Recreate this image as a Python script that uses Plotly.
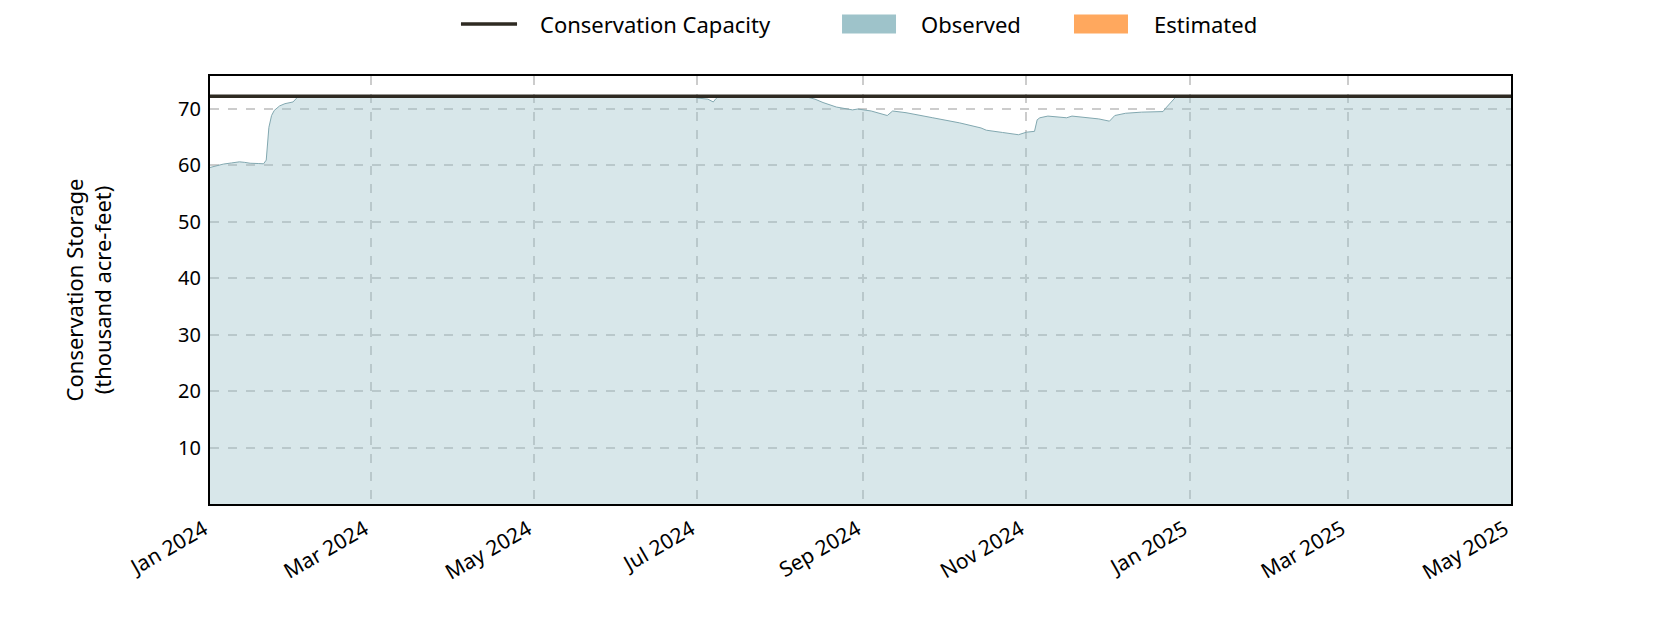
import plotly.graph_objects as go

# ---- data ------------------------------------------------------------------------

CAPACITY = 72.2  # thousand acre-feet

obs_dates = [
    '2024-01-01', '2024-01-04', '2024-01-06', '2024-01-09', '2024-01-12', '2024-01-14',
    '2024-01-16', '2024-01-19', '2024-01-21', '2024-01-22', '2024-01-23', '2024-01-24',
    '2024-01-25', '2024-01-27', '2024-01-29', '2024-02-01', '2024-02-03', '2024-06-29',
    '2024-07-01', '2024-07-05', '2024-07-07', '2024-07-08', '2024-07-09', '2024-08-10',
    '2024-08-14', '2024-08-17', '2024-08-20', '2024-08-22', '2024-08-28', '2024-08-30',
    '2024-09-04', '2024-09-10', '2024-09-12', '2024-09-17', '2024-09-27', '2024-10-07',
    '2024-10-15', '2024-10-17', '2024-10-23', '2024-10-29', '2024-11-01', '2024-11-04',
    '2024-11-05', '2024-11-06', '2024-11-09', '2024-11-16', '2024-11-18', '2024-11-28',
    '2024-12-02', '2024-12-04', '2024-12-08', '2024-12-14', '2024-12-22', '2024-12-23',
    '2024-12-27', '2025-05-01',
]
obs_values = [
    59.6, 59.95, 60.2, 60.4, 60.6, 60.5,
    60.35, 60.3, 60.25, 60.9, 66.7, 68.8,
    69.7, 70.5, 70.9, 71.2, 72.2, 72.2,
    71.9, 71.7, 71.2, 71.8, 72.2, 72.2,
    71.7, 71.1, 70.7, 70.3, 69.8, 69.95,
    69.6, 68.8, 69.6, 69.3, 68.4, 67.5,
    66.6, 66.2, 65.8, 65.4, 65.85, 66.0,
    68.05, 68.4, 68.7, 68.4, 68.7, 68.2,
    67.8, 68.8, 69.2, 69.4, 69.5, 70.1,
    72.2, 72.2,
]

x_range = ['2024-01-01', '2025-05-01']
y_ticks = [10, 20, 30, 40, 50, 60, 70]

legend_names = ['Conservation Capacity', 'Observed', 'Estimated']

#----------------------------------------------------------------------------------------------------

FONT = 'Noto Sans'
OBS_COLOR = 'rgb(158, 195, 202)'
OBS_FILL = 'rgba(158, 195, 202, 0.4)'
OBS_LINE = 'rgb(130, 168, 176)'
EST_COLOR = 'rgb(255, 168, 94)'
CAP_COLOR = 'rgb(46, 42, 34)'

fig = go.Figure()

# observed storage, filled
fig.add_trace(go.Scatter(x=obs_dates, y=obs_values, mode='lines', fill='tozeroy',
                         fillcolor=OBS_FILL, line=dict(color=OBS_LINE, width=1),
                         name=legend_names[1], showlegend=False, hoverinfo='skip'))

# conservation capacity
fig.add_trace(go.Scatter(x=x_range, y=[CAPACITY, CAPACITY], mode='lines',
                         line=dict(color=CAP_COLOR, width=3.5),
                         name=legend_names[0], showlegend=False))

# legend drawn by hand above the plot (paper coords), matplotlib style swatches
LEG_Y = 1.1215
LEG_H = 0.0222
fig.add_shape(type='line', xref='paper', yref='paper', x0=0.1929, x1=0.2360, y0=LEG_Y, y1=LEG_Y,
              line=dict(color=CAP_COLOR, width=3.5))
fig.add_shape(type='rect', xref='paper', yref='paper', x0=0.4858, x1=0.5273,
              y0=LEG_Y - LEG_H, y1=LEG_Y + LEG_H, fillcolor=OBS_COLOR, line=dict(width=0))
fig.add_shape(type='rect', xref='paper', yref='paper', x0=0.6641, x1=0.7056,
              y0=LEG_Y - LEG_H, y1=LEG_Y + LEG_H, fillcolor=EST_COLOR, line=dict(width=0))
for name, xpos in zip(legend_names, [0.2521, 0.5449, 0.7241]):
    fig.add_annotation(text=name, xref='paper', yref='paper', x=xpos, y=LEG_Y,
                       xanchor='left', yanchor='middle', showarrow=False,
                       font=dict(size=22, family=FONT, color='black'))

# margins take the 8px page offset into account
fig.update_layout(width=1680, height=630,
                  margin=dict(l=202, r=177, t=68, b=134),
                  plot_bgcolor='white', paper_bgcolor='white',
                  font=dict(family=FONT, size=20, color='black'),
                  showlegend=False)

fig.update_xaxes(range=x_range, dtick='M2', tick0='2024-01-01', tickformat='%b %Y',
                 tickangle=-30, tickfont=dict(size=21), automargin=False,
                 ticklabelstandoff=3, ticklabelshift=-6,
                 showgrid=True, gridcolor='rgb(204, 204, 204)', griddash='dash', gridwidth=1.5,
                 showline=True, mirror=True, linecolor='black', linewidth=2,
                 ticks='', zeroline=False)
fig.update_yaxes(range=[0, 75.8], tickvals=y_ticks, tickfont=dict(size=20), automargin=False,
                 showgrid=True, gridcolor='rgb(204, 204, 204)', griddash='dash', gridwidth=1.5,
                 showline=True, mirror=True, linecolor='black', linewidth=2,
                 ticks='', ticklabelstandoff=3, zeroline=False,
                 title=dict(text='Conservation Storage<br>(thousand acre-feet)',
                            font=dict(size=22), standoff=60))

fig.write_html('out.html')
